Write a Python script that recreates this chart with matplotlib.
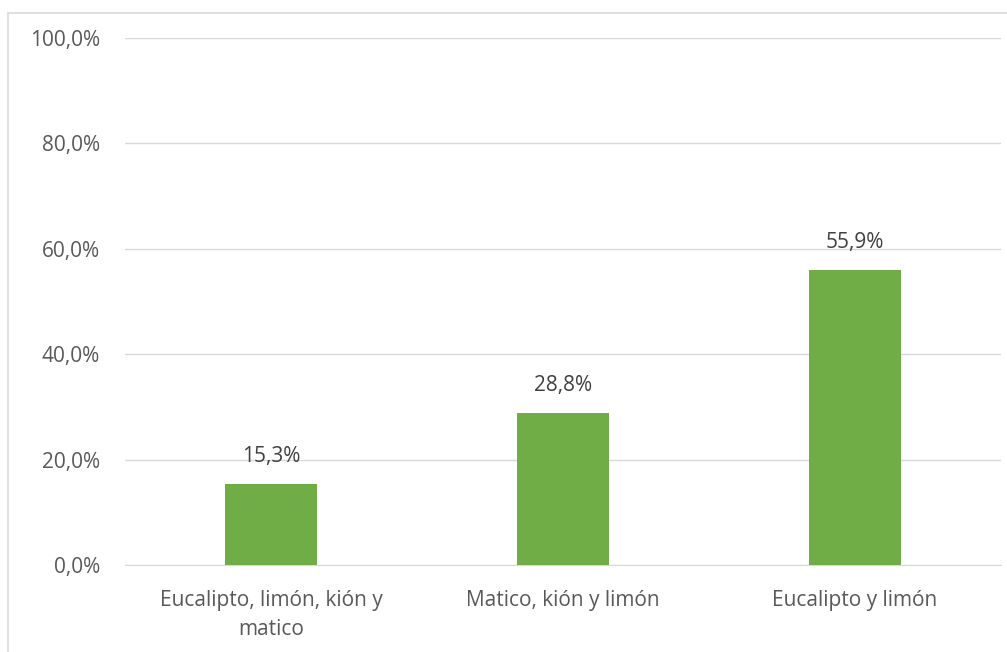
import matplotlib.pyplot as plt
from matplotlib.patches import Rectangle
from matplotlib.ticker import FuncFormatter

categorias = ["Eucalipto, limón, kión y\nmatico", "Matico, kión y limón", "Eucalipto y limón"]
porcentajes = [15.3, 28.8, 55.9]

plt.rcParams['font.family'] = ['Open Sans', 'DejaVu Sans']

fig = plt.figure(figsize=(10.07, 6.52), dpi=100)
ax = fig.add_axes([125 / 1007, 1 - 565 / 652, 876 / 1007, (565 - 38) / 652])

# marco del gráfico
fig.patches.append(Rectangle((8 / 1007, -0.1), 1.2, 1 - 13 / 652 + 0.1, transform=fig.transFigure,
                             fill=False, edgecolor="#d9d9d9", linewidth=1.2))

barras = ax.bar(range(len(categorias)), porcentajes, width=0.315, color="#70AD47", zorder=3)
for b, v in zip(barras, porcentajes):
    ax.annotate(f"{v:.1f}%".replace(".", ","), (b.get_x() + b.get_width() / 2, v),
                xytext=(0, 12.5), textcoords="offset points", ha="center", va="bottom",
                fontsize=15, color="#404040")

ax.set_xlim(-0.5, 2.5)
ax.set_ylim(0, 100)
ax.set_yticks(range(0, 101, 20))
ax.yaxis.set_major_formatter(FuncFormatter(lambda y, _: f"{y:.1f}%".replace(".", ",")))
ax.set_xticks(range(len(categorias)))
ax.set_xticklabels(categorias, linespacing=1.5)
ax.grid(axis="y", color="#d9d9d9", linewidth=1, zorder=0)
for s in ["top", "right", "left"]:
    ax.spines[s].set_visible(False)
ax.spines["bottom"].set_color("#d9d9d9")
ax.tick_params(axis="both", length=0, labelsize=15, labelcolor="#595959")
ax.tick_params(axis="y", pad=18)
ax.tick_params(axis="x", pad=18)

fig.savefig("out.png", dpi=100)
